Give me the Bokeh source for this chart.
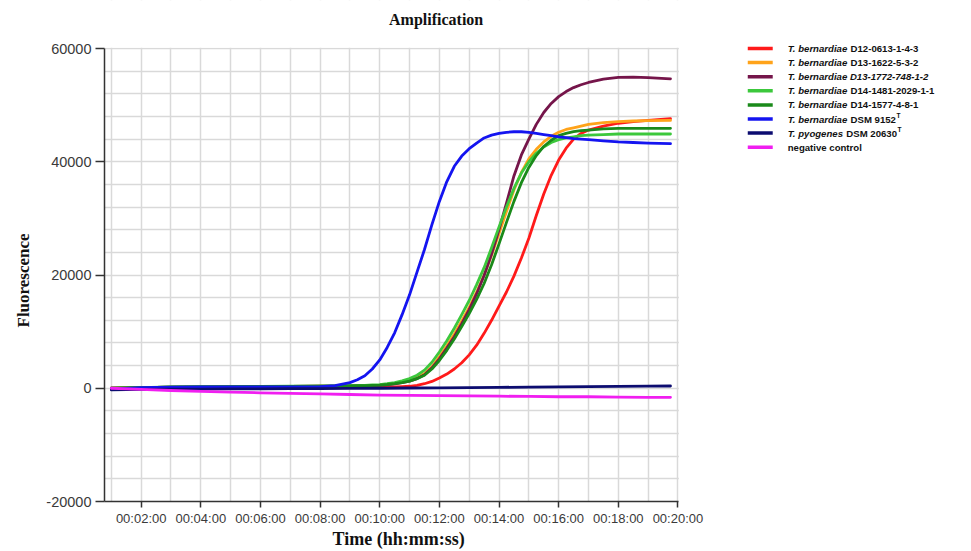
from bokeh.plotting import figure
from bokeh.models import Range1d, FixedTicker, ColumnDataSource, Title
from bokeh.core.properties import value
from bokeh.embed import file_html
from bokeh.resources import INLINE

# ---------------- data ----------------
# fine time grid (minutes) for the amplification curves
time_fine = [1, 2, 3, 4, 5, 6, 7, 8, 8.5,
             9, 9.25, 9.5, 9.75, 10, 10.25, 10.5, 10.75, 11, 11.25, 11.5, 11.75,
             12, 12.25, 12.5, 12.75, 13, 13.25, 13.5, 13.75, 14, 14.25, 14.5, 14.75,
             15, 15.25, 15.5, 15.75, 16, 16.25, 16.5, 16.75, 17,
             17.5, 18, 18.5, 19, 19.75]

d12_0613 = [0, 50, 100, 150, 150, 150, 150, 150, 150,
            150, 170, 200, 200, 200, 220, 250, 300, 350, 520, 800, 1200,
            1800, 2500, 3400, 4500, 5900, 7600, 9700, 12000, 14500, 17000, 19800, 23000,
            26500, 30500, 34300, 37600, 40300, 42400, 44000, 45000, 45600,
            46300, 46800, 47100, 47300, 47600]
d13_1622 = [0, 100, 200, 250, 280, 300, 320, 350, 370,
            400, 420, 450, 500, 550, 680, 850, 1100, 1400, 1900, 2600, 3800,
            5600, 7500, 9600, 11900, 14300, 17000, 20000, 23500, 27300, 31200, 35000, 38100,
            40500, 42200, 43500, 44500, 45200, 45700, 46000, 46300, 46600,
            46900, 47100, 47200, 47250, 47300]
d13_1772 = [0, 100, 200, 250, 280, 300, 320, 350, 370,
            400, 420, 450, 480, 520, 630, 780, 1000, 1250, 1700, 2400, 3600,
            5200, 7100, 9100, 11400, 13900, 16700, 19900, 23700, 28000, 32700, 37500, 41200,
            44000, 46600, 48700, 50300, 51500, 52400, 53100, 53600, 54000,
            54600, 54900, 54950, 54850, 54650]
d14_1481 = [0, 100, 220, 280, 300, 320, 350, 380, 400,
            450, 480, 520, 580, 650, 800, 1000, 1300, 1700, 2300, 3200, 4600,
            6400, 8400, 10600, 13000, 15500, 18300, 21300, 24800, 28500, 32000, 35300, 38000,
            40000, 41500, 42600, 43400, 43900, 44200, 44400, 44600, 44700,
            44800, 44900, 44900, 44900, 44900]
d14_1577 = [0, 100, 200, 260, 290, 310, 330, 360, 380,
            420, 440, 470, 510, 560, 660, 800, 1000, 1250, 1700, 2300, 3400,
            4900, 6700, 8700, 10900, 13200, 15700, 18500, 21800, 25500, 29300, 33000, 36300,
            39000, 41100, 42700, 43800, 44600, 45000, 45300, 45500, 45600,
            45800, 45900, 45900, 45900, 45900]
dsm_9152 = [-150, 100, 200, 250, 250, 250, 250, 300, 450,
            1000, 1500, 2200, 3400, 5000, 7200, 9800, 13000, 16500, 20500, 24500, 28900,
            33000, 36500, 39200, 41000, 42300, 43300, 44200, 44700, 45000, 45200, 45300, 45300,
            45200, 45000, 44800, 44600, 44400, 44250, 44100, 44000, 43900,
            43700, 43500, 43400, 43300, 43200]

# coarse time grid (minutes) for the flat curves
time_coarse = [1, 2, 3, 4, 5, 6, 7, 8, 9, 10, 11, 12, 13, 14, 15, 16, 17, 18, 19, 19.75]
pyo_20630 = [-300, -200, -180, -150, -120, -100, -80, -50, -30, 0, 40, 80, 120, 160, 200, 250, 300, 340, 380, 400]
neg_control = [0, -200, -400, -550, -700, -800, -900, -1000, -1100, -1200, -1250, -1300, -1350, -1400,
               -1450, -1500, -1500, -1550, -1600, -1600]

series_times = [time_fine] * 6 + [time_coarse] * 2
series_values = [d12_0613, d13_1622, d13_1772, d14_1481, d14_1577, dsm_9152, pyo_20630, neg_control]
series_colors = ["#ff1a1a", "#ffa31a", "#75154a", "#3cc83c", "#1a8a1a", "#1414f0", "#0c0c70", "#f01ef0"]

# legend labels: italic part, upright part, superscript
legend_italic = ["T. bernardiae ", "T. bernardiae ", "T. bernardiae D13-1772-748-1-2", "T. bernardiae ",
                 "T. bernardiae ", "T. bernardiae ", "T. pyogenes ", ""]
legend_upright = ["D12-0613-1-4-3", "D13-1622-5-3-2", "", "D14-1481-2029-1-1", "D14-1577-4-8-1",
                  "DSM 9152", "DSM 20630", "negative control"]
legend_sup = ["", "", "", "", "", "T", "T", ""]

chart_title = "Amplification"
x_axis_title = "Time (hh:mm:ss)"
y_axis_title = "Fluorescence"
x_tick_values = [2, 4, 6, 8, 10, 12, 14, 16, 18, 20]
x_tick_labels = ["00:02:00", "00:04:00", "00:06:00", "00:08:00", "00:10:00",
                 "00:12:00", "00:14:00", "00:16:00", "00:18:00", "00:20:00"]
y_tick_values = [-20000, 0, 20000, 40000, 60000]
y_tick_labels = ["-20000", "0", "20000", "40000", "60000"]

# ---------------- geometry (page pixels) ----------------
W, H = 971, 551
PL_L, PL_R, PL_T, PL_B = 103, 678, 48, 501      # visible plotting area
X0, XP = 0.77, 20.03                             # time at PL_L / PL_R
Y0, YP = -20000, 60000                           # value at PL_B / PL_T
SX = (XP - X0) / (PL_R - PL_L)                   # minutes per pixel
SY = (YP - Y0) / (PL_B - PL_T)                   # units per pixel
X_END = XP + (W - PL_R) * SX                     # frame extends to right edge
Y_TOP = YP + PL_T * SY                           # frame extends to top edge


def px_x(px):
    return X0 + (px - PL_L) * SX


def px_y(py):
    return YP - (py - PL_T) * SY


p = figure(width=W, height=H, x_range=Range1d(X0, X_END), y_range=Range1d(Y0, Y_TOP),
           output_backend="svg", toolbar_location=None,
           min_border_left=PL_L, min_border_right=0, min_border_top=0, min_border_bottom=H - PL_B)
p.outline_line_color = None
p.background_fill_color = "white"
p.title.text = ""

p.xgrid.ticker = FixedTicker(ticks=list(range(1, 21)))
p.ygrid.ticker = FixedTicker(ticks=list(range(-20000, 60001, 4000)))
for g in (p.xgrid, p.ygrid):
    g.grid_line_color = "#d9d9d9"
    g.grid_line_width = 1.5

p.xaxis.bounds = (X0, XP)
p.yaxis.bounds = (Y0, YP)
p.xaxis.ticker = FixedTicker(ticks=x_tick_values)
p.xaxis.major_label_overrides = dict(zip(x_tick_values, x_tick_labels))
p.yaxis.ticker = FixedTicker(ticks=y_tick_values)
p.yaxis.major_label_overrides = dict(zip(y_tick_values, y_tick_labels))

for ax in (p.xaxis, p.yaxis):
    ax.axis_line_color = "#333333"
    ax.axis_line_width = 1.5
    ax.major_tick_line_color = "#333333"
    ax.major_tick_line_width = 1.5
    ax.major_tick_in = 0
    ax.minor_tick_line_color = None
    ax.major_label_text_font = "Liberation Sans"
    ax.major_label_text_color = "#3a3a3a"
    ax.axis_label = None

p.xaxis.major_tick_out = 6
p.xaxis.major_label_standoff = 3
p.xaxis.major_label_text_font_size = "13px"

p.yaxis.major_tick_out = 9
p.yaxis.major_label_standoff = 4
p.yaxis.major_label_text_font_size = "14.5px"

# axis titles as side titles (positioned along the visible plotting area)
p.add_layout(Title(text=x_axis_title, align="left", offset=228, vertical_align="top", standoff=0,
                   text_font="Liberation Serif", text_font_style="bold", text_font_size="18px",
                   text_color="#111111"), "below")
p.add_layout(Title(text=y_axis_title, align="left", offset=174, standoff=22,
                   text_font="Liberation Serif", text_font_style="bold", text_font_size="17px",
                   text_color="#111111"), "left")

# white masks over the grid outside the plotting area (top strip and right strip)
p.quad(left=[X0, XP], right=[X_END, X_END], bottom=[YP + 0.8 * SY, Y0], top=[Y_TOP, Y_TOP],
       fill_color="white", line_color=None)

for tt, vals, col in zip(series_times, series_values, series_colors):
    src = ColumnDataSource(data=dict(t=tt, v=vals))
    p.line("t", "v", source=src, line_color=col, line_width=2.8, line_join="round", line_cap="round")

# chart title
p.text(x=[px_x(435)], y=[px_y(19)], text=[chart_title], text_font=value("Liberation Serif"),
       text_font_style="bold", text_font_size="16px", text_align="center", text_baseline="middle",
       text_color="#111111")

# ---------------- legend ----------------
W_BOLD = {" ": 278, ".": 278, "-": 333, "0": 556, "1": 556, "2": 556, "3": 556, "4": 556, "5": 556,
          "6": 556, "7": 556, "8": 556, "9": 556, "A": 722, "D": 722, "M": 833, "S": 667, "T": 611,
          "a": 556, "b": 611, "c": 556, "d": 611, "e": 556, "g": 611, "i": 278, "l": 278, "n": 611,
          "o": 611, "p": 611, "r": 389, "s": 556, "t": 333, "v": 556, "y": 556}
FS = 9.6


def text_w(s, fs=FS):
    return sum(W_BOLD.get(ch, 556) for ch in s) * fs / 1000.0


sw_x0, sw_x1, tx0 = 747, 772, 787
row_y0, row_dy = 48, 14.1
rows_py = [row_y0 + i * row_dy for i in range(len(legend_upright))]
rows_y = [px_y(v) for v in rows_py]

p.segment(x0=[px_x(sw_x0)] * len(rows_y), x1=[px_x(sw_x1)] * len(rows_y), y0=rows_y, y1=rows_y,
          line_color=series_colors, line_width=3.5)

up_px = [tx0 + text_w(s) for s in legend_italic]
sup_px = [u + text_w(s) + 0.5 for u, s in zip(up_px, legend_upright)]

p.text(x=[px_x(tx0)] * len(rows_y), y=rows_y, text=legend_italic, text_font=value("Liberation Sans"),
       text_font_style="bold italic", text_font_size=f"{FS}px", text_baseline="middle",
       text_color="#111111")
p.text(x=[px_x(v) for v in up_px], y=rows_y, text=legend_upright, text_font=value("Liberation Sans"),
       text_font_style="bold", text_font_size=f"{FS}px", text_baseline="middle", text_color="#111111")
p.text(x=[px_x(v) for v in sup_px], y=[px_y(v - 3.5) for v in rows_py], text=legend_sup,
       text_font=value("Liberation Sans"), text_font_style="bold", text_font_size="6.5px",
       text_baseline="middle", text_color="#111111")

open("out.html", "w").write(file_html(p, INLINE))
